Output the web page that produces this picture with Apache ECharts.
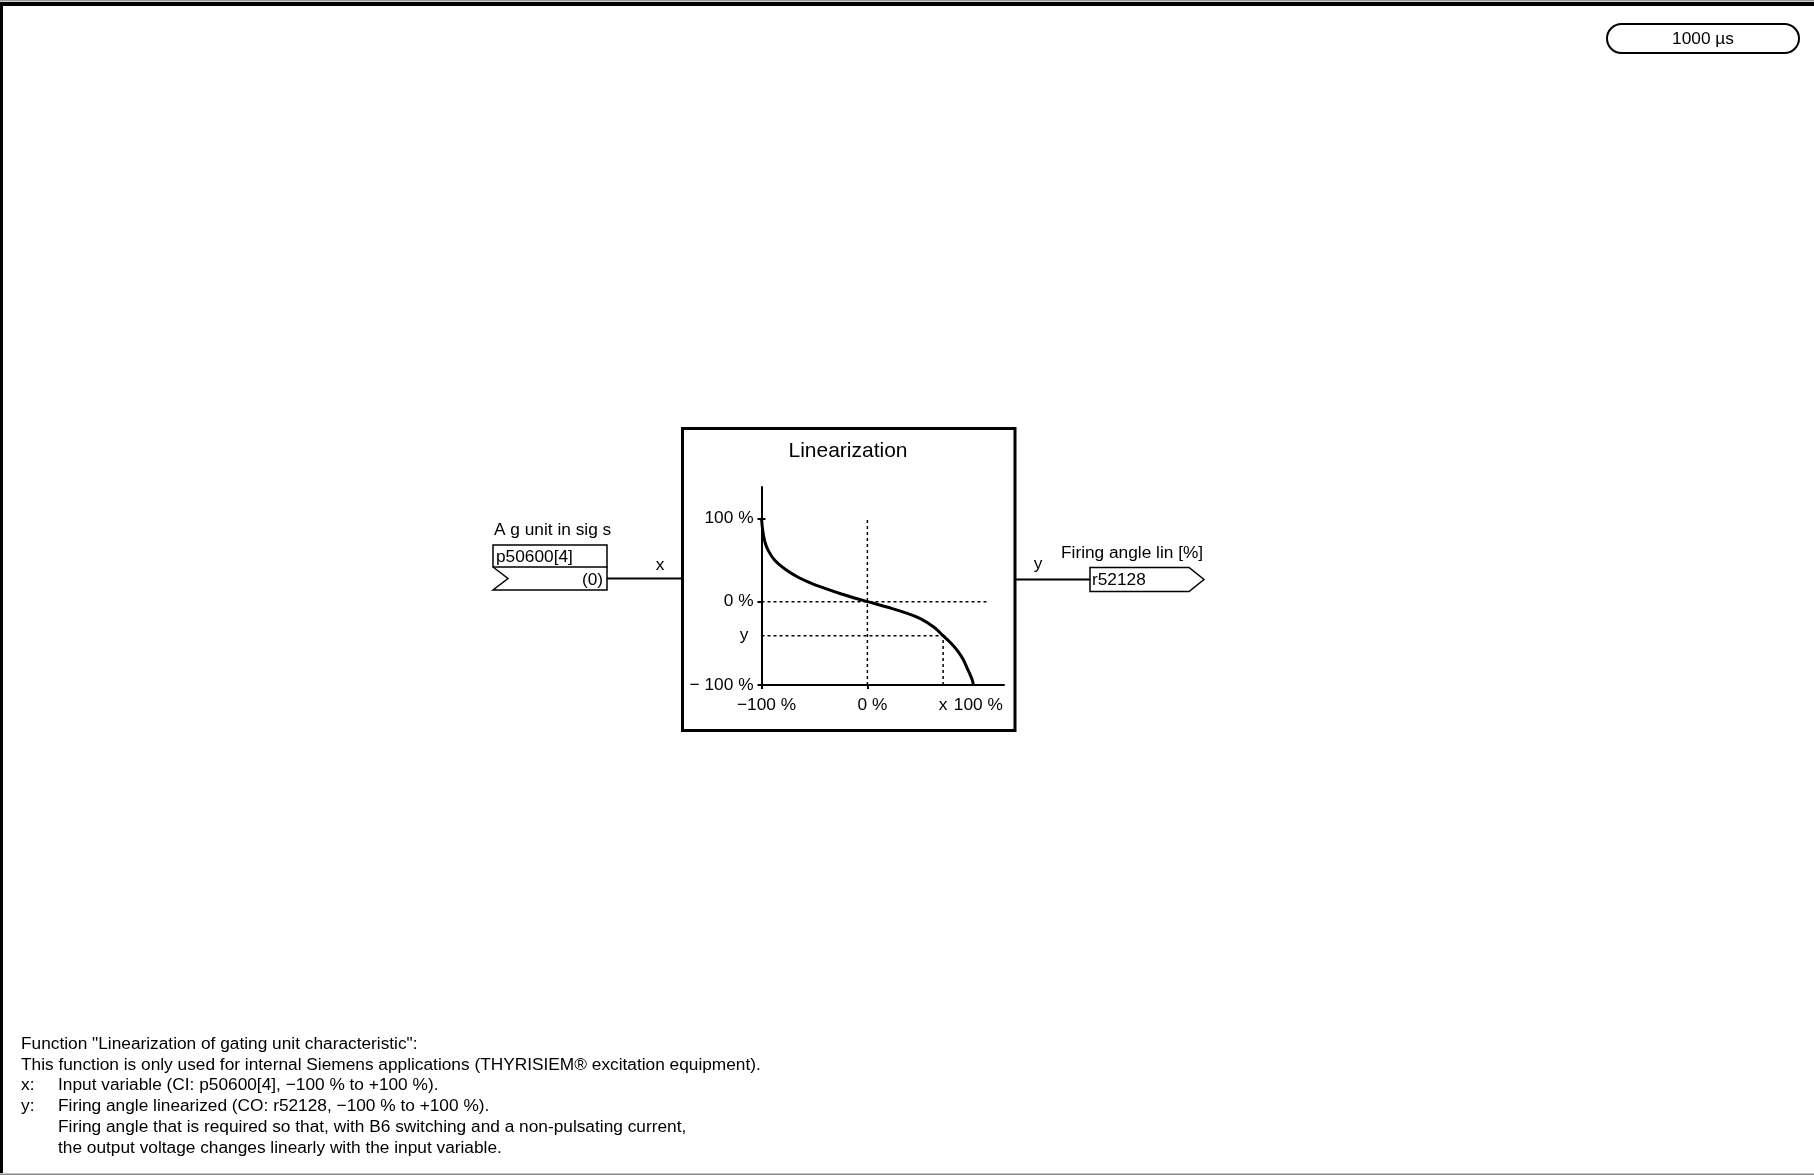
<!DOCTYPE html>
<html>
<head>
<meta charset="utf-8">
<script src="https://cdn.jsdelivr.net/npm/echarts@6/dist/echarts.min.js"></script>
<style>
  html, body { margin: 0; padding: 0; background: #fff; }
  #chart { width: 1814px; height: 1175px; }
</style>
</head>
<body>
<div id="chart"></div>
<script>
// characteristic curve (x in %, y in %)
const curveX = [-100, -98.6, -96.7, -93.6, -87.3, -77.9, -65.4, -52.8, -40.2, -24.5, -8.8, 0, 18.4, 34.1, 50, 62.6, 71.5, 79, 85.7, 90.5, 94.4, 97.5, 99.3, 100]
const curveY = [100, 83.2, 71.2, 61.2, 49.2, 39.1, 29.2, 22.0, 16.0, 9.1, 3.1, 0, -6.5, -12.5, -20.4, -30.5, -40.8, -50, -60, -69.5, -80.5, -89, -95, -100]

// example operating point (x, y) marked by the dotted guides
const pointX = 71.5
const pointY = -40.8

// dotted guide lines
const zeroVertX = [0, 0]
const zeroVertY = [-100, 100]
const zeroHorizX = [-100, 115]
const zeroHorizY = [0, 0]

// tick labels
const xTicks = [-100, 0, pointX, 100]
const xTickText = ['\u2212100 %', '0 %', 'x', '100 %']
const yTicks = [-100, pointY, 0, 100]
const yTickText = ['\u2212 100 %', 'y', '0 %', '100 %']

const noteLines = [
  ['', 'Function "Linearization of gating unit characteristic":'],
  ['', 'This function is only used for internal Siemens applications (THYRISIEM\u00ae excitation equipment).'],
  ['x:', 'Input variable (CI: p50600[4], \u2212100 % to +100 %).'],
  ['y:', 'Firing angle linearized (CO: r52128, \u2212100 % to +100 %).'],
  ['', 'Firing angle that is required so that, with B6 switching and a non-pulsating current,'],
  ['', 'the output voltage changes linearly with the input variable.']
]

const FONT = '"Liberation Sans", Arial, sans-serif'
const FS = 17.3

function pairs (xs, ys) {
  return xs.map((x, i) => [x, ys[i]])
}

function label (text, x, y, size, align) {
  return {
    type: 'text',
    style: {
      text: text,
      x: x,
      y: y,
      fill: '#000',
      font: size + 'px ' + FONT,
      textAlign: align || 'left',
      textVerticalAlign: 'middle'
    }
  }
}

function tickText (ticks, texts, plain) {
  return function (v) {
    let i = ticks.findIndex(t => Math.abs(t - v) < 0.01)
    if (i < 0) return ''
    return texts[i] === plain ? '{p|' + texts[i] + '}' : '{n|' + texts[i] + '}'
  }
}

const dotted = { color: '#000', width: 1.5, type: [3, 3] }

const graphics = [
  // sheet frame
  { type: 'rect', shape: { x: 0, y: 0, width: 1814, height: 1.5 }, style: { fill: '#999' } },
  { type: 'rect', shape: { x: 0, y: 2, width: 1814, height: 4 }, style: { fill: '#000' } },
  { type: 'rect', shape: { x: 0, y: 2, width: 3, height: 1171 }, style: { fill: '#000' } },
  { type: 'rect', shape: { x: 0, y: 1173.5, width: 1814, height: 1.5 }, style: { fill: '#888' } },

  // sampling time
  { type: 'rect', shape: { x: 1607, y: 24, width: 192, height: 29, r: 14.5 }, style: { fill: 'none', stroke: '#000', lineWidth: 2 } },
  label('1000 \u00b5s', 1703, 39.5, FS, 'center'),

  // input connector
  label('A g unit in sig s', 494, 530.5, FS),
  { type: 'rect', shape: { x: 493, y: 545, width: 114, height: 22 }, style: { fill: 'none', stroke: '#000', lineWidth: 1.5 } },
  { type: 'polyline', shape: { points: [[493, 567], [508, 578.5], [493, 590], [607, 590], [607, 567]] }, style: { fill: 'none', stroke: '#000', lineWidth: 1.5 } },
  label('p50600[4]', 496, 557, FS),
  label('(0)', 603, 580, FS, 'right'),
  { type: 'line', shape: { x1: 607, y1: 578.5, x2: 683, y2: 578.5 }, style: { stroke: '#000', lineWidth: 2 } },
  label('x', 660, 565, FS, 'center'),

  // function block
  { type: 'rect', shape: { x: 682.5, y: 428.5, width: 332.5, height: 302 }, style: { fill: 'none', stroke: '#000', lineWidth: 3 } },
  label('Linearization', 848, 451.5, 21, 'center'),

  // output connector
  { type: 'line', shape: { x1: 1015, y1: 579.5, x2: 1090, y2: 579.5 }, style: { stroke: '#000', lineWidth: 2 } },
  label('y', 1038, 564.5, FS, 'center'),
  label('Firing angle lin [%]', 1061, 553.5, FS),
  { type: 'polygon', shape: { points: [[1090, 567.5], [1189, 567.5], [1204, 579.5], [1189, 591.5], [1090, 591.5]] }, style: { fill: 'none', stroke: '#000', lineWidth: 1.5 } },
  label('r52128', 1092, 580.5, FS)
]

// footnote
noteLines.forEach((l, i) => {
  let y = 1044 + i * 20.8
  if (l[0]) {
    graphics.push(label(l[0], 21, y, FS))
    graphics.push(label(l[1], 58, y, FS))
  } else {
    graphics.push(label(l[1], i < 2 ? 21 : 58, y, FS))
  }
})

const labelRich = {
  n: { fontSize: FS, fontFamily: FONT, color: '#000', padding: [0, 0, 0, 10] },
  p: { fontSize: FS, fontFamily: FONT, color: '#000' }
}

const chart = echarts.init(document.getElementById('chart'))
const option = {
  animation: false,
  backgroundColor: '#fff',
  grid: { left: 761.5, top: 487, width: 242.5, height: 198, containLabel: false },
  xAxis: {
    type: 'value',
    min: -100,
    max: 129,
    splitLine: { show: false },
    axisLine: { onZero: false, lineStyle: { color: '#000', width: 2 } },
    axisTick: { customValues: [-100, 0], length: 4, lineStyle: { color: '#000', width: 2 } },
    axisLabel: {
      customValues: xTicks,
      formatter: tickText(xTicks, xTickText, 'x'),
      rich: labelRich,
      color: '#000',
      fontSize: FS,
      fontFamily: FONT,
      margin: 12
    }
  },
  yAxis: [
    {
      type: 'value',
      position: 'left',
      min: -100,
      max: 137.5,
      splitLine: { show: false },
      axisLine: { onZero: false, lineStyle: { color: '#000', width: 2 } },
      axisTick: { customValues: [-100, 0, 100], length: 4, lineStyle: { color: '#000', width: 2 } },
      axisLabel: {
        customValues: yTicks,
        formatter: function (v) {
          let i = yTicks.findIndex(t => Math.abs(t - v) < 0.01)
          if (i < 0) return ''
          return yTickText[i] === 'y' ? '{y|y}' : '{p|' + yTickText[i] + '}'
        },
        rich: {
          p: { fontSize: FS, fontFamily: FONT, color: '#000' },
          y: { fontSize: FS, fontFamily: FONT, color: '#000', padding: [0, 5, 0, 0] }
        },
        color: '#000',
        fontSize: FS,
        fontFamily: FONT,
        margin: 8
      }
    },
    {
      type: 'value',
      position: 'left',
      min: -100,
      max: 137.5,
      splitLine: { show: false },
      axisLine: { show: false, onZero: false },
      axisTick: { inside: true, customValues: [-100, 100], length: 4, lineStyle: { color: '#000', width: 2 } },
      axisLabel: { show: false }
    }
  ],
  series: [
    {
      name: 'guide x=0',
      type: 'line',
      symbol: 'none',
      data: pairs(zeroVertX, zeroVertY),
      lineStyle: dotted
    },
    {
      name: 'guide y=0',
      type: 'line',
      symbol: 'none',
      data: pairs(zeroHorizX, zeroHorizY),
      lineStyle: dotted
    },
    {
      name: 'guide y',
      type: 'line',
      symbol: 'none',
      data: [[-100, pointY], [pointX, pointY]],
      lineStyle: dotted
    },
    {
      name: 'guide x',
      type: 'line',
      symbol: 'none',
      data: [[pointX, -100], [pointX, pointY]],
      lineStyle: dotted
    },
    {
      name: 'characteristic',
      type: 'line',
      symbol: 'none',
      smooth: 0.4,
      data: pairs(curveX, curveY),
      lineStyle: { color: '#000', width: 3 },
      z: 5
    }
  ],
  graphic: graphics
}
chart.setOption(option)
</script>
</body>
</html>
